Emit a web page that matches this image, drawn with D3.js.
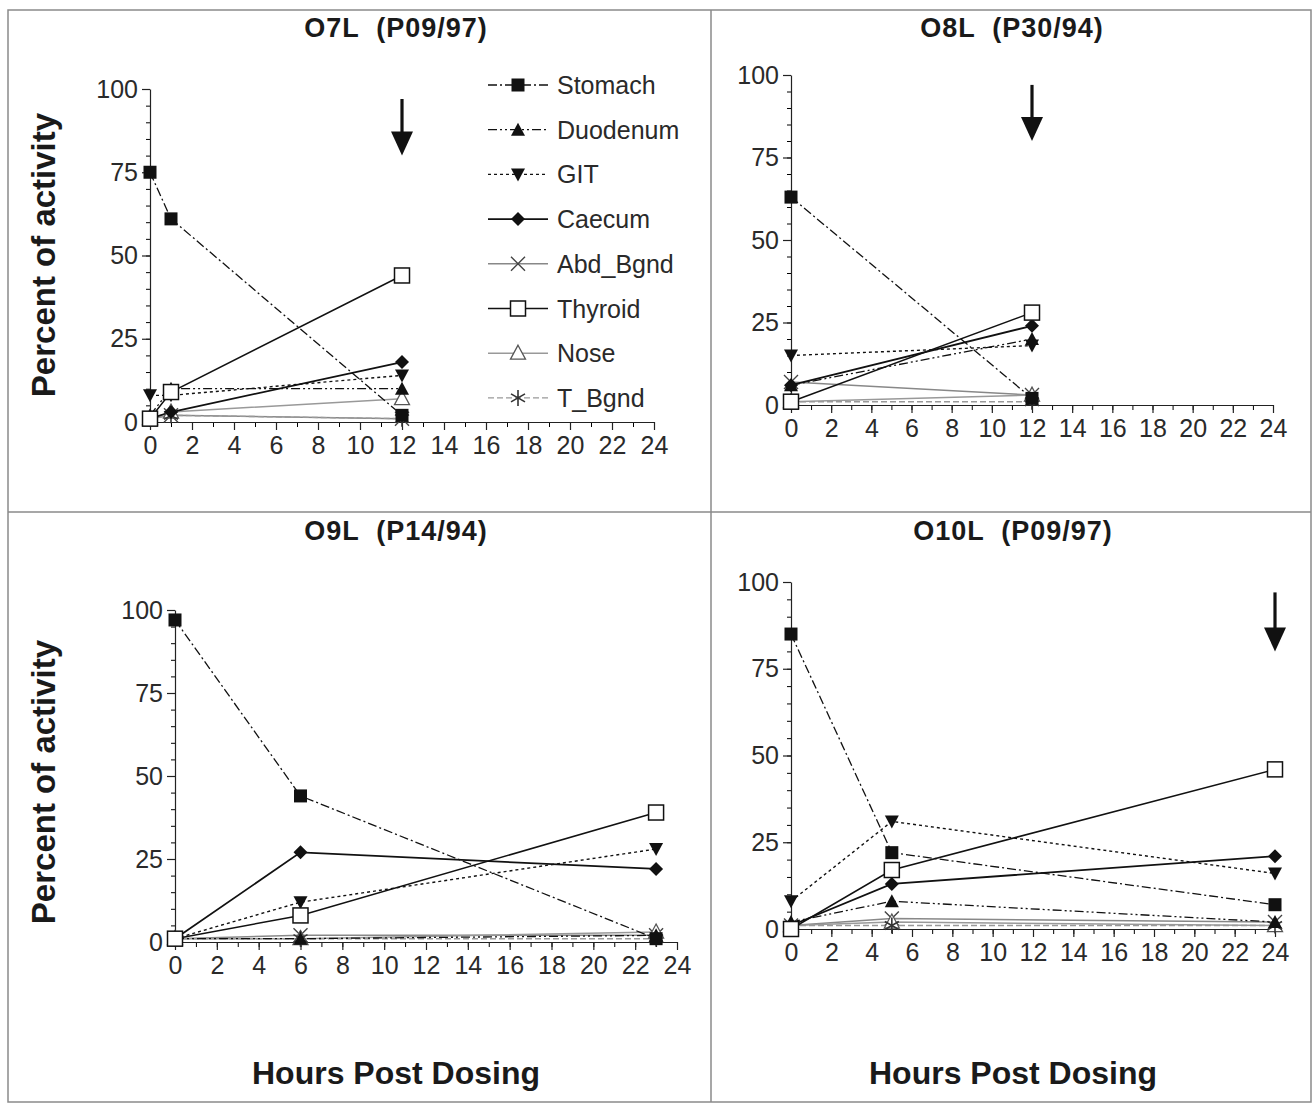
<!DOCTYPE html>
<html>
<head>
<meta charset="utf-8">
<script src="https://cdn.jsdelivr.net/npm/d3@7"></script>
<style>
  body { margin: 0; background: #fff; }
  text { font-family: "Liberation Sans", Arial, Helvetica, sans-serif; }
</style>
</head>
<body>
<div id="chart"></div>
<script>
// organ series, same order in every panel
var seriesNames = ["Stomach", "Duodenum", "GIT", "Caecum", "Abd_Bgnd", "Thyroid", "Nose", "T_Bgnd"];
var panelTitles = ["O7L  (P09/97)", "O8L  (P30/94)", "O9L  (P14/94)", "O10L  (P09/97)"];
var xTicks = [0, 2, 4, 6, 8, 10, 12, 14, 16, 18, 20, 22, 24];
var yTicks = [0, 25, 50, 75, 100];

// percent of activity per series (rows follow seriesNames)
var o7lHours = [0, 1, 12];
var o7lValues = [
    [75, 61, 2],
    [2, 10, 10],
    [8, 8, 14],
    [1, 3, 18],
    [1, 2, 1],
    [1, 9, 44],
    [1, 3, 7],
    [1, 2, 1]
];
var o8lHours = [0, 12];
var o8lValues = [
    [63, 2],
    [6, 20],
    [15, 18],
    [6, 24],
    [7, 3],
    [1, 28],
    [1, 3],
    [1, 1]
];
var o9lHours = [0, 6, 23];
var o9lValues = [
    [97, 44, 1],
    [1, 1, 2],
    [1, 12, 28],
    [1, 27, 22],
    [1, 2, 2],
    [1, 8, 39],
    [1, 1, 3],
    [1, 1, 1]
];
var o10lHours = [0, 5, 24];
var o10lValues = [
    [85, 22, 7],
    [2, 8, 2],
    [8, 31, 16],
    [1, 13, 21],
    [1, 3, 2],
    [0, 17, 46],
    [1, 2, 1],
    [1, 1, 1]
];
// dosing arrows (hour), null = none
var arrowHours = [12, 12, null, 24];
var arrowRange = [97, 80];

///////////////////////////////////////////////////////////////////////////
////////////////////////////// Styles /////////////////////////////////////
///////////////////////////////////////////////////////////////////////////

var seriesStyle = [
    {marker: "square",   fill: "#111", stroke: "#111", dash: "9,3,2,3",      width: 1.3},
    {marker: "triUp",    fill: "#111", stroke: "#111", dash: "9,3,2,3,2,3",  width: 1.3},
    {marker: "triDown",  fill: "#111", stroke: "#111", dash: "3,3",          width: 1.4},
    {marker: "diamond",  fill: "#111", stroke: "#111", dash: null,           width: 1.8},
    {marker: "x",        fill: "none", stroke: "#888", dash: null,           width: 1.5},
    {marker: "openSq",   fill: "#fff", stroke: "#111", dash: null,           width: 1.5},
    {marker: "openTri",  fill: "#fff", stroke: "#999", dash: null,           width: 1.5},
    {marker: "star",     fill: "none", stroke: "#999", dash: "6,3",          width: 1.4}
];

var W = 1314, H = 1104;
var fontTick = 25;

var panels = [
    {hours: o7lHours,  values: o7lValues,  xL: 150, xR: 654,  yT: 89,  yB: 422, cx: 396,  ty: 28},
    {hours: o8lHours,  values: o8lValues,  xL: 791, xR: 1273, yT: 75,  yB: 405, cx: 1012, ty: 28},
    {hours: o9lHours,  values: o9lValues,  xL: 175, xR: 677,  yT: 610, yB: 942, cx: 396,  ty: 531},
    {hours: o10lHours, values: o10lValues, xL: 791, xR: 1275, yT: 582, yB: 929, cx: 1013, ty: 531}
];

var svg = d3.select("#chart")
    .append("svg")
    .attr("width", W)
    .attr("height", H);

svg.append("rect").attr("width", W).attr("height", H).attr("fill", "#fff");

// frame and dividers
var frame = svg.append("g").attr("stroke", "#8a8a8a").attr("stroke-width", 1.5).attr("fill", "none");
frame.append("rect").attr("x", 8).attr("y", 10).attr("width", 1303).attr("height", 1092);
frame.append("line").attr("x1", 711).attr("x2", 711).attr("y1", 10).attr("y2", 1102);
frame.append("line").attr("x1", 8).attr("x2", 1311).attr("y1", 512).attr("y2", 512);

//draw one marker at (0,0)
function drawMarker(g, type, st) {
    var s = 6.5;
    if (type === "square") {
        g.append("rect").attr("x", -s).attr("y", -s).attr("width", 2 * s).attr("height", 2 * s).attr("fill", st.fill);
    } else if (type === "openSq") {
        g.append("rect").attr("x", -7.5).attr("y", -7.5).attr("width", 15).attr("height", 15)
            .attr("fill", "#fff").attr("stroke", "#111").attr("stroke-width", 1.5);
    } else if (type === "triUp") {
        g.append("path").attr("d", "M0,-7L7,6L-7,6Z").attr("fill", st.fill);
    } else if (type === "triDown") {
        g.append("path").attr("d", "M0,7L7,-6L-7,-6Z").attr("fill", st.fill);
    } else if (type === "openTri") {
        g.append("path").attr("d", "M0,-8L7.5,6L-7.5,6Z").attr("fill", "#fff").attr("stroke", "#555").attr("stroke-width", 1.3);
    } else if (type === "diamond") {
        g.append("path").attr("d", "M0,-7L7,0L0,7L-7,0Z").attr("fill", st.fill);
    } else if (type === "x") {
        g.append("path").attr("d", "M-7,-7L7,7M-7,7L7,-7").attr("stroke", "#444").attr("stroke-width", 1.4);
    } else if (type === "star") {
        g.append("path").attr("d", "M0,-8L0,8M-7,-4L7,4M-7,4L7,-4").attr("stroke", "#333").attr("stroke-width", 1.6);
    }
}

///////////////////////////////////////////////////////////////////////////
////////////////////////////// Panels /////////////////////////////////////
///////////////////////////////////////////////////////////////////////////

panels.forEach(function(p, pi) {
    var x = d3.scaleLinear().domain([0, 24]).range([p.xL, p.xR]);
    var y = d3.scaleLinear().domain([0, 100]).range([p.yB, p.yT]);
    var g = svg.append("g");

    g.append("text")
        .attr("x", p.cx).attr("y", p.ty)
        .attr("text-anchor", "middle").attr("dominant-baseline", "central")
        .attr("font-size", 27).attr("font-weight", "bold").attr("fill", "#1a1a1a")
        .attr("letter-spacing", 1)
        .style("white-space", "pre")
        .text(panelTitles[pi]);

    // minor ticks
    g.append("g").attr("transform", "translate(" + p.xL + ",0)")
        .call(d3.axisLeft(y).tickValues(d3.range(0, 101, 5)).tickSize(4).tickFormat(""))
        .call(function(a) { a.select(".domain").remove(); });
    g.append("g").attr("transform", "translate(0," + p.yB + ")")
        .call(d3.axisBottom(x).tickValues(d3.range(0, 25, 1)).tickSize(5).tickFormat(""))
        .call(function(a) { a.select(".domain").remove(); });

    var yAx = g.append("g").attr("transform", "translate(" + p.xL + ",0)")
        .call(d3.axisLeft(y).tickValues(yTicks).tickSize(8).tickSizeOuter(0).tickPadding(4));
    var xAx = g.append("g").attr("transform", "translate(0," + p.yB + ")")
        .call(d3.axisBottom(x).tickValues(xTicks).tickSize(8).tickSizeOuter(0).tickPadding(6));

    [yAx, xAx].forEach(function(a) {
        a.selectAll("text").attr("font-size", fontTick).attr("fill", "#2a2a2a")
            .attr("font-family", "'Liberation Sans', Arial, sans-serif");
        a.selectAll("line, path").attr("stroke", "#222").attr("stroke-width", 1.2);
    });

    // series lines
    var line = d3.line()
        .x(function(d) { return x(d[0]); })
        .y(function(d) { return y(d[1]); });

    var order = [4, 6, 7, 1, 2, 3, 5, 0];
    order.forEach(function(si) {
        var st = seriesStyle[si];
        var pts = p.hours.map(function(h, i) { return [h, p.values[si][i]]; });
        g.append("path")
            .attr("d", line(pts))
            .attr("fill", "none")
            .attr("stroke", st.stroke)
            .attr("stroke-width", st.width)
            .attr("stroke-dasharray", st.dash);
    });
    order.forEach(function(si) {
        var st = seriesStyle[si];
        p.hours.forEach(function(h, i) {
            var m = g.append("g").attr("transform", "translate(" + x(h) + "," + y(p.values[si][i]) + ")");
            drawMarker(m, st.marker, st);
        });
    });

    // dosing arrow
    if (arrowHours[pi] !== null) {
        var ax = x(arrowHours[pi]);
        var y0 = y(arrowRange[0]), y1 = y(arrowRange[1]);
        var headTop = y1 - 24;
        g.append("line").attr("x1", ax).attr("x2", ax).attr("y1", y0).attr("y2", headTop + 2)
            .attr("stroke", "#111").attr("stroke-width", 3.2);
        g.append("path")
            .attr("d", "M" + (ax - 11) + "," + headTop + "L" + (ax + 11) + "," + headTop + "L" + ax + "," + y1 + "Z")
            .attr("fill", "#111");
    }
});

// axis titles
[255, 782].forEach(function(cy) {
    svg.append("text")
        .attr("transform", "translate(43," + cy + ") rotate(-90)")
        .attr("text-anchor", "middle").attr("dominant-baseline", "central")
        .attr("font-size", 33).attr("font-weight", "bold").attr("fill", "#1a1a1a")
        .text("Percent of activity");
});
[396, 1013].forEach(function(cx) {
    svg.append("text")
        .attr("x", cx).attr("y", 1073)
        .attr("text-anchor", "middle").attr("dominant-baseline", "central")
        .attr("font-size", 32).attr("font-weight", "bold").attr("fill", "#1a1a1a")
        .text("Hours Post Dosing");
});

///////////////////////////////////////////////////////////////////////////
////////////////////////////// Legend /////////////////////////////////////
///////////////////////////////////////////////////////////////////////////

var legend = svg.append("g").attr("transform", "translate(488,85)");
seriesNames.forEach(function(name, i) {
    var st = seriesStyle[i];
    var row = legend.append("g").attr("transform", "translate(0," + (i * 44.7) + ")");
    row.append("line").attr("x1", 0).attr("x2", 60)
        .attr("stroke", st.stroke).attr("stroke-width", st.width)
        .attr("stroke-dasharray", st.dash);
    drawMarker(row.append("g").attr("transform", "translate(30,0)"), st.marker, st);
    row.append("text").attr("x", 69).attr("y", 0)
        .attr("dominant-baseline", "central")
        .attr("font-size", fontTick).attr("fill", "#2a2a2a")
        .text(name);
});
</script>
</body>
</html>
